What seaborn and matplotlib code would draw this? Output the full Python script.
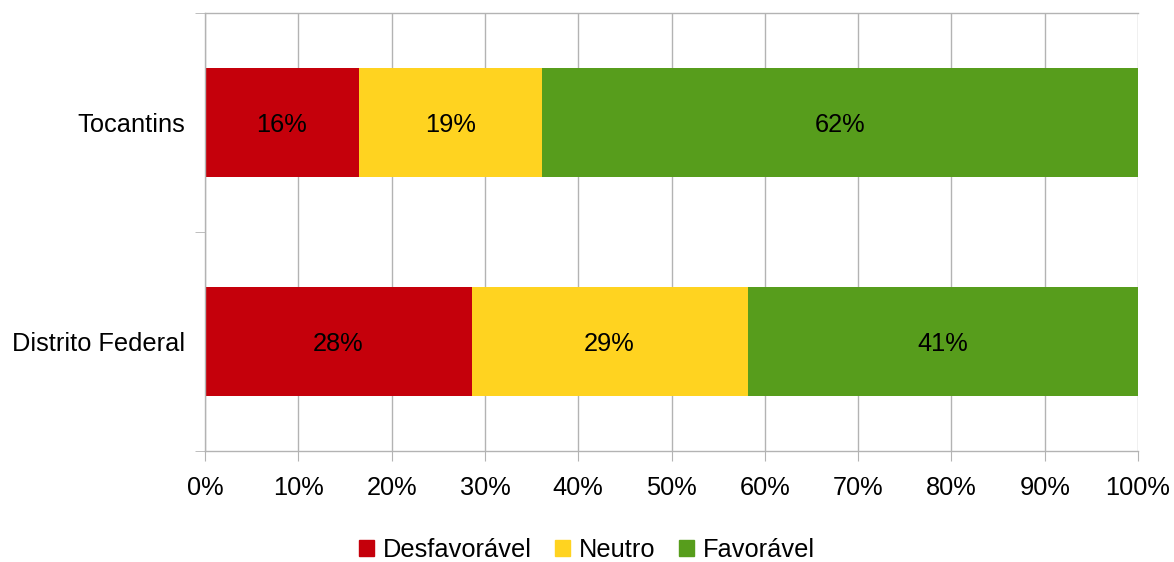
import matplotlib
matplotlib.use("Agg")
import matplotlib.pyplot as plt
import matplotlib.patches as mpatches
import numpy as np
import pandas as pd
import seaborn as sns

# dados (valores brutos, normalizados para 100%)
regioes = ["Tocantins", "Distrito Federal"]
desfavoravel = [16, 28]
neutro = [19, 29]
favoravel = [62, 41]
series = ["Desfavorável", "Neutro", "Favorável"]
cores = ["#c5000b", "#ffd320", "#579d1c"]
xticks = [0, 10, 20, 30, 40, 50, 60, 70, 80, 90, 100]

sns.set_style("white")
plt.rcParams["font.family"] = ["Liberation Sans", "DejaVu Sans"]
plt.rcParams["text.color"] = "black"
plt.rcParams["xtick.labelcolor"] = "black"
plt.rcParams["ytick.labelcolor"] = "black"

raw = np.array([desfavoravel, neutro, favoravel], dtype=float)
pct = raw / raw.sum(axis=0) * 100
cum = np.cumsum(pct, axis=0)

fs = 18.3
fig = plt.figure(figsize=(11.74, 5.62), dpi=100)
ax = fig.add_axes([205/1174, 1 - 451/562, (1138-205)/1174, (451-13)/562])

# empilhado: desenha do total para o menor
for i in [2, 1, 0]:
    df = pd.DataFrame({"regiao": regioes, "valor": cum[i]})
    sns.barplot(data=df, x="valor", y="regiao", color=cores[i], width=0.5,
                orient="h", ax=ax, saturation=1, zorder=2, linewidth=0)

# rótulos
for i in range(3):
    for j in range(len(regioes)):
        meio = cum[i, j] - pct[i, j] / 2
        ax.text(meio, j + 0.01, "%d%%" % raw[i, j], ha="center", va="center",
                fontsize=fs, color="black", zorder=3)

ax.set_xlim(0, 100)
ax.set_ylim(1.5, -0.5)
ax.set_xticks(xticks)
ax.set_xticklabels(["%d%%" % t for t in xticks])
ax.set_yticks(range(len(regioes)))
ax.set_yticks([-0.5, 0.5, 1.5], minor=True)
ax.set_xlabel("")
ax.set_ylabel("")
ax.grid(axis="x", color="#b3b3b3", linewidth=1, zorder=0)
ax.set_axisbelow(True)
for s in ["left", "bottom", "top"]:
    ax.spines[s].set_color("#b3b3b3")
    ax.spines[s].set_linewidth(1)
ax.spines["right"].set_visible(False)
ax.tick_params(axis="x", length=7, color="#b3b3b3", labelsize=fs, pad=11, bottom=True)
ax.tick_params(axis="y", which="major", length=0, labelsize=fs, pad=14)
ax.tick_params(axis="y", which="minor", length=7, color="#b3b3b3", left=True)

handles = [mpatches.Patch(color=c, label=s) for c, s in zip(cores, series)]
fig.legend(handles=handles, loc="center", bbox_to_anchor=(0.5, 1 - 550/562),
           ncol=3, frameon=False, fontsize=fs, handlelength=0.6, handleheight=0.6,
           handletextpad=0.35, columnspacing=0.9)

fig.savefig("out.png", dpi=100)
